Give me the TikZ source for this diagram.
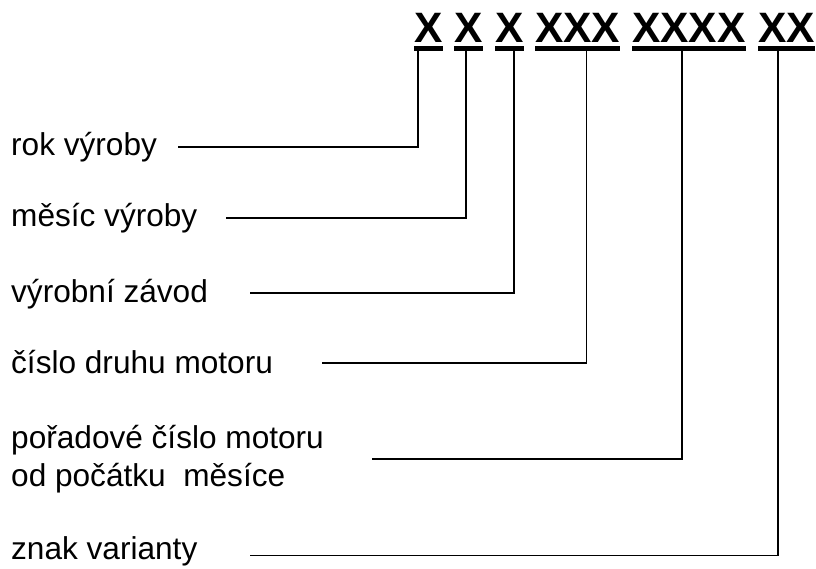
\documentclass[tikz,border=0pt]{standalone}
\usepackage{fontspec}
\setmainfont{Liberation Sans}
\begin{document}
\begin{tikzpicture}[x=1pt,y=-1pt,
  hdr/.style={font=\fontsize{42.5}{48}\selectfont\bfseries, inner sep=0pt, anchor=base west},
  lbl/.style={font=\fontsize{31.6}{38}\selectfont, inner sep=0pt, anchor=base west, align=left},
  conn/.style={line width=1.7pt}]
\useasboundingbox (0,0) rectangle (816,569);
% header groups
\node[hdr] (g1) at (414,42.5) {X};
\node[hdr] (g2) at (454,42.5) {X};
\node[hdr] (g3) at (495,42.5) {X};
\node[hdr] (g4) at (535,42.5) {XXX};
\node[hdr] (g5) at (632,42.5) {XXXX};
\node[hdr] (g6) at (758,42.5) {XX};
\foreach \g in {g1,g2,g3,g4,g5,g6}
  \fill (\g.west |- 0,46.3) rectangle (\g.east |- 0,51);
% connector top ends
\coordinate (t1) at (418.3,51);
\coordinate (t2) at (465.8,51);
\coordinate (t3) at (514.3,51);
\coordinate (t4) at (586.5,51);
\coordinate (t5) at (681.8,51);
\coordinate (t6) at (778,51);
% labels
\node[lbl] (l1) at (11,156) {rok výroby};
\node[lbl] (l2) at (11,227) {měsíc výroby};
\node[lbl] (l3) at (11,302) {výrobní závod};
\node[lbl] (l4) at (11,373) {číslo druhu motoru};
\node[lbl, anchor=west] (l5) at (11,459) {pořadové číslo motoru\\od počátku~ měsíce};
\node[lbl] (l6) at (11,559.5) {znak varianty};
% connector start points
\coordinate (s1) at (178,147);
\coordinate (s2) at (226,218);
\coordinate (s3) at (250,293);
\coordinate (s4) at (322,363);
\coordinate (s5) at (372,459);
\coordinate (s6) at (250,555.5);
\draw[conn] (s1) -| (t1);
\draw[conn] (s2) -| (t2);
\draw[conn] (s3) -| (t3);
\draw[conn] (s4) -| (t4);
\draw[conn] (s5) -| (t5);
\draw[conn] (s6) -| (t6);
\end{tikzpicture}
\end{document}
